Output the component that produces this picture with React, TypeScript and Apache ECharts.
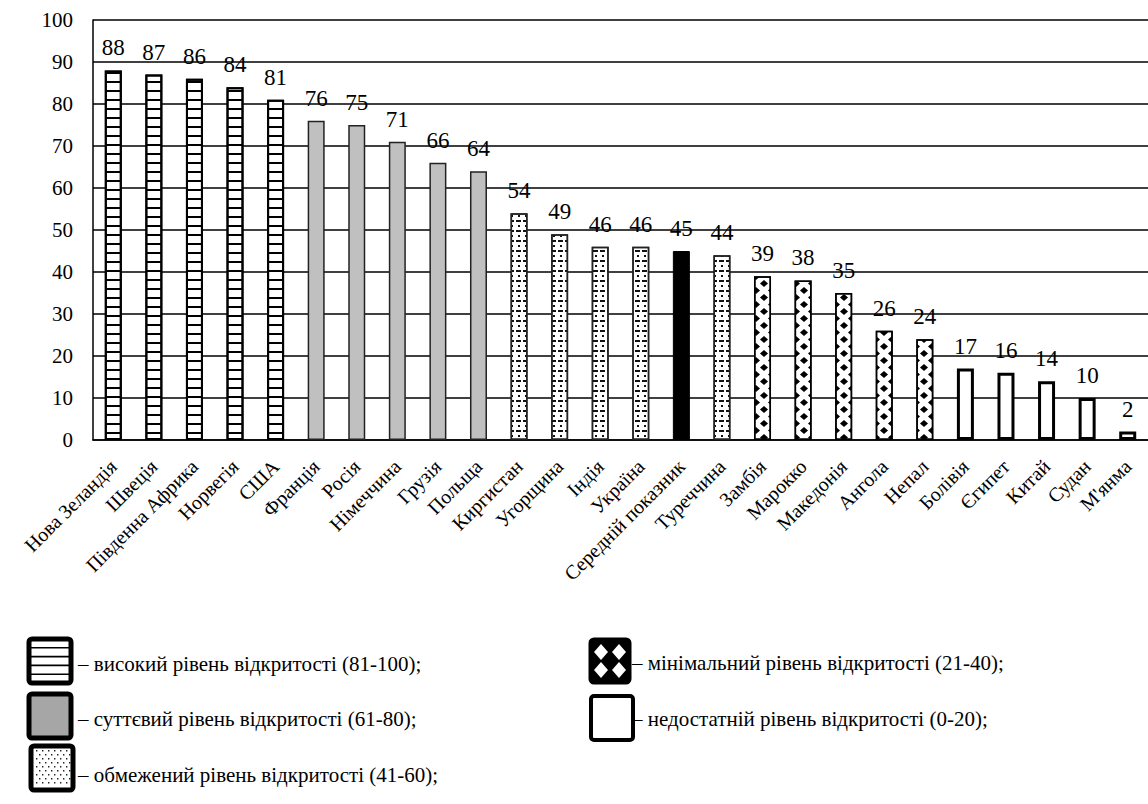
import React, { useEffect, useRef } from "react";
import * as echarts from "echarts";

const categories = [
  "Нова Зеландія", "Швеція", "Південна Африка", "Норвегія", "США",
  "Франція", "Росія", "Німеччина", "Грузія", "Польща",
  "Киргистан", "Угорщина", "Індія", "Україна", "Середній показник", "Туреччина",
  "Замбія", "Марокко", "Македонія", "Ангола", "Непал",
  "Болівія", "Єгипет", "Китай", "Судан", "М'янма",
];
const values = [88, 87, 86, 84, 81, 76, 75, 71, 66, 64, 54, 49, 46, 46, 45, 44, 39, 38, 35, 26, 24, 17, 16, 14, 10, 2];
const levels = [
  "high", "high", "high", "high", "high",
  "sig", "sig", "sig", "sig", "sig",
  "lim", "lim", "lim", "lim", "avg", "lim",
  "min", "min", "min", "min", "min",
  "low", "low", "low", "low", "low",
];
const yTicks = { min: 0, max: 100, interval: 10 };
const legendItems = [
  { level: "high", text: "– високий рівень відкритості (81-100);" },
  { level: "sig", text: "– суттєвий рівень відкритості (61-80);" },
  { level: "lim", text: "– обмежений рівень відкритості (41-60);" },
  { level: "min", text: "– мінімальний рівень відкритості (21-40);" },
  { level: "low", text: "– недостатній рівень відкритості (0-20);" },
];

const FONT = "Liberation Serif";

const decals: Record<string, any> = {
  high: { symbol: "rect", symbolSize: 1, color: "#000", dashArrayX: [1, 0], dashArrayY: [1.6, 6.4] },
  lim: { symbol: "rect", symbolSize: 1, color: "#111", dashArrayX: [[1.6, 4.4], [3, 1.6, 1.4, 0]], dashArrayY: [1.6, 2.4] },
  min: { symbol: "diamond", symbolSize: 1, color: "#000", dashArrayX: [[8, 8], [0, 8, 8, 0]], dashArrayY: [7, 0] },
};

export default function App() {
  const ref = useRef<HTMLDivElement>(null);
  useEffect(() => {
    if (!ref.current) return;
    const chart = echarts.init(ref.current, null, { renderer: "svg" });

    const barStyle = (lvl: string) => {
      switch (lvl) {
        case "high": return { color: "#fff", borderColor: "#000", borderWidth: 2, decal: decals.high };
        case "sig": return { color: "#c0c0c0", borderColor: "#222", borderWidth: 1.5 };
        case "lim": return { color: "#fff", borderColor: "#222", borderWidth: 1.5, decal: decals.lim };
        case "avg": return { color: "#000", borderColor: "#000", borderWidth: 1 };
        case "min": return { color: "#fff", borderColor: "#000", borderWidth: 1.5, decal: decals.min };
        default: return { color: "#fff", borderColor: "#000", borderWidth: 3 };
      }
    };

    const legendPos = [
      { x: 29, y: 639, tx: 78, ty: 664 },
      { x: 29, y: 694, tx: 78, ty: 719 },
      { x: 31, y: 746, tx: 78, ty: 775 },
      { x: 591, y: 640, tx: 632, ty: 663 },
      { x: 591, y: 696, tx: 632, ty: 719 },
    ];
    const graphic: any[] = [];
    legendItems.forEach((it, i) => {
      const p = legendPos[i];
      const isMin = it.level === "min";
      const w = isMin ? 38 : 42;
      const h = isMin ? 42 : 44;
      const fill = it.level === "sig" ? "#a6a6a6" : it.level === "min" ? "#000" : "#fff";
      graphic.push({
        type: "rect", x: p.x, y: p.y,
        shape: { width: w, height: h, r: 3 },
        style: { fill, stroke: "#000", lineWidth: it.level === "low" ? 4 : 5 },
      });
      if (it.level === "high") {
        for (let k = 1; k <= 4; k++) {
          graphic.push({
            type: "line",
            shape: { x1: p.x + 2, y1: p.y + k * 8.8, x2: p.x + w - 2, y2: p.y + k * 8.8 },
            style: { stroke: "#000", lineWidth: 1.6 },
          });
        }
      }
      if (it.level === "lim") {
        for (let r = 0; r < 9; r++) {
          for (let c = 0; c < 6; c++) {
            const dx = p.x + 5 + c * 6 + (r % 2 ? 3 : 0);
            if (dx > p.x + w - 4) continue;
            graphic.push({
              type: "rect",
              shape: { x: dx, y: p.y + 4 + r * 4, width: 1.4, height: 1.4 },
              style: { fill: "#222" },
            });
          }
        }
      }
      if (it.level === "min") {
        const cs = [[p.x + 10, p.y + 12], [p.x + 28, p.y + 12], [p.x + 10, p.y + 30], [p.x + 28, p.y + 30]];
        cs.forEach(([cx, cy]) => {
          graphic.push({
            type: "polygon",
            shape: { points: [[cx, cy - 8], [cx + 7, cy], [cx, cy + 8], [cx - 7, cy]] },
            style: { fill: "#fff" },
          });
        });
      }
      graphic.push({
        type: "text", x: p.tx, y: p.ty,
        style: {
          text: it.text, fontFamily: FONT, fontSize: 21, fill: "#000",
          verticalAlign: "middle", align: "left",
        },
      });
    });

    chart.setOption({
      animation: false,
      backgroundColor: "#fff",
      textStyle: { fontFamily: FONT },
      grid: { left: 93, top: 20, height: 420, right: 0, containLabel: false },
      xAxis: {
        type: "category",
        data: categories,
        axisLine: { show: true, lineStyle: { color: "#000", width: 1.5 } },
        axisTick: { show: false },
        axisLabel: { interval: 0, rotate: 45, margin: 23, fontFamily: FONT, fontSize: 20, color: "#000" },
      },
      yAxis: {
        type: "value",
        min: yTicks.min,
        max: yTicks.max,
        interval: yTicks.interval,
        axisLine: { show: true, lineStyle: { color: "#000", width: 1.5 } },
        axisTick: { show: false },
        splitLine: { show: true, lineStyle: { color: "#000", width: 1.5 } },
        axisLabel: { fontFamily: FONT, fontSize: 21, color: "#000", margin: 20 },
      },
      series: [
        {
          type: "bar",
          barWidth: 17,
          data: values.map((v, i) => ({ value: v, itemStyle: barStyle(levels[i]) })),
          label: { show: true, position: "top", distance: 11, fontFamily: FONT, fontSize: 23, color: "#000" },
        },
      ],
      graphic,
    });
    return () => chart.dispose();
  }, []);
  return (
    <div ref={ref} style={{ position: "fixed", left: 0, top: 0, width: 1148, height: 804, background: "#fff" }} />
  );
}
